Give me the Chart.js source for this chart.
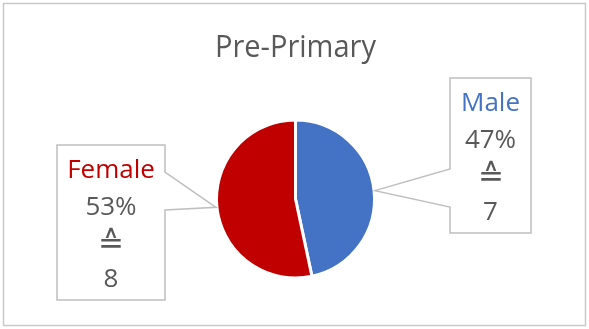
<!DOCTYPE html>
<html>
<head>
<meta charset="utf-8">
<script src="https://cdn.jsdelivr.net/npm/chart.js@4"></script>
<style>
  html, body { margin: 0; padding: 0; background: #fff; }
  canvas { display: block; }
</style>
</head>
<body>
<canvas id="pieChart" width="589" height="329"></canvas>
<script>
// data
const categories = ["Male", "Female"];
const counts = [7, 8];
const sliceColors = ["#4472C4", "#C00000"];
const chartTitle = "Pre-Primary";

// callout boxes (layout only)
const callouts = [
  { x: 450, y: 78, w: 81, h: 155, side: "left", baseTop: 169, baseBottom: 207 },
  { x: 57, y: 145, w: 108, h: 155, side: "right", baseTop: 172, baseBottom: 210 }
];
const lineOffsets = [26, 63, 100, 135];

const total = counts.reduce((a, b) => a + b, 0);

const calloutPlugin = {
  id: "callouts",
  beforeDraw(chart) {
    const ctx = chart.ctx;
    ctx.save();
    ctx.strokeStyle = "#C9C9C9";
    ctx.lineWidth = 1.5;
    ctx.strokeRect(3.5, 3.5, 582, 322);
    ctx.restore();
  },
  afterDatasetsDraw(chart) {
    const ctx = chart.ctx;
    const arcs = chart.getDatasetMeta(0).data;
    arcs.forEach((arc, i) => {
      const c = callouts[i];
      const mid = (arc.startAngle + arc.endAngle) / 2;
      const tipX = arc.x + Math.cos(mid) * (arc.outerRadius + 1);
      const tipY = arc.y + Math.sin(mid) * (arc.outerRadius + 1);

      ctx.save();
      ctx.beginPath();
      ctx.moveTo(c.x, c.y);
      ctx.lineTo(c.x + c.w, c.y);
      if (c.side === "right") {
        ctx.lineTo(c.x + c.w, c.baseTop);
        ctx.lineTo(tipX, tipY);
        ctx.lineTo(c.x + c.w, c.baseBottom);
      }
      ctx.lineTo(c.x + c.w, c.y + c.h);
      ctx.lineTo(c.x, c.y + c.h);
      if (c.side === "left") {
        ctx.lineTo(c.x, c.baseBottom);
        ctx.lineTo(tipX, tipY);
        ctx.lineTo(c.x, c.baseTop);
      }
      ctx.closePath();
      ctx.fillStyle = "#ffffff";
      ctx.fill();
      ctx.strokeStyle = "#BFBFBF";
      ctx.lineWidth = 1.5;
      ctx.stroke();

      const pct = Math.round(counts[i] / total * 100) + "%";
      const lines = [categories[i], pct, "\u2259", String(counts[i])];
      const cx = c.x + c.w / 2;
      ctx.textAlign = "center";
      ctx.textBaseline = "middle";
      lines.forEach((t, k) => {
        ctx.font = k === 2 ? "200 31px 'DejaVu Sans', sans-serif" : "26px 'Open Sans', sans-serif";
        ctx.fillStyle = k === 0 ? sliceColors[i] : "#595959";
        ctx.fillText(t, cx, c.y + lineOffsets[k]);
      });
      ctx.restore();
    });
  }
};

new Chart(document.getElementById("pieChart"), {
  type: "pie",
  data: {
    labels: categories,
    datasets: [{
      data: counts,
      backgroundColor: sliceColors,
      borderColor: "#ffffff",
      borderWidth: 3
    }]
  },
  options: {
    responsive: false,
    animation: false,
    layout: { padding: { left: 215, right: 213, top: 0, bottom: 49.5 } },
    plugins: {
      legend: { display: false },
      tooltip: { enabled: false },
      title: {
        display: true,
        text: chartTitle,
        color: "#595959",
        font: { family: "'Open Sans', sans-serif", size: 31, weight: "normal" },
        padding: { top: 30, bottom: 51.3 }
      }
    }
  },
  plugins: [calloutPlugin]
});
</script>
</body>
</html>
